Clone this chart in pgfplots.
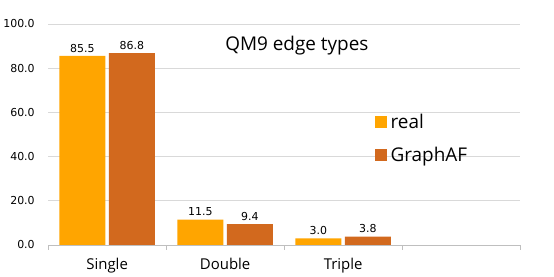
\documentclass[border=0pt]{standalone}
\usepackage{pgfplots}
\pgfplotsset{compat=1.18}
\usepackage{fontspec}
\setmainfont{Open Sans}
\newfontfamily\dv{DejaVu Sans}
\definecolor{realc}{HTML}{FFA500}
\definecolor{gafc}{HTML}{D2691E}
\definecolor{gridc}{HTML}{D9D9D9}
\definecolor{axc}{HTML}{BFBFBF}
\begin{document}
\begin{tikzpicture}
\begin{axis}[
  scale only axis, width=474pt, height=222pt,
  ybar, bar width=0.39,
  xmin=-0.5, xmax=3.5, ymin=0, ymax=100,
  axis x line*=bottom, axis y line*=left,
  y axis line style={draw=none},
  x axis line style={draw=axc, line width=0.8pt, -},
  ytick={0,20,...,100},
  ymajorgrids, grid style={gridc, line width=0.7pt},
  ytick style={draw=none},
  y tick label style={font=\dv\fontsize{11}{13}\selectfont, xshift=-5pt,
    /pgf/number format/.cd, fixed, fixed zerofill, precision=1, assume math mode=true},
  xtick={-0.5,0.5,1.5,2.5,3.5}, xticklabels={},
  xtick style={draw=axc, line width=0.8pt},
  tick align=outside, major tick length=5pt,
  extra x ticks={0,1,2},
  extra x tick labels={Single,Double,Triple},
  extra x tick style={major tick length=0pt, grid=none,
    tick label style={font=\fontsize{15}{18}\selectfont, yshift=-10pt}},
  legend style={at={(0.685,0.61)}, anchor=north west, draw=none, fill=none,
    font=\fontsize{19}{22}\selectfont, row sep=13pt},
  legend cell align=left,
  nodes near coords,
  nodes near coords style={font=\dv\fontsize{11}{13}\selectfont,
    /pgf/number format/.cd, fixed, fixed zerofill, precision=1, assume math mode=true},
]
\addplot[bar shift=-0.21, fill=realc, draw=none,
  legend image code/.code={\fill[realc] (0pt,-6pt) rectangle (12pt,6pt);}]
  coordinates {(0,85.5) (1,11.5) (2,3.0)};
\addlegendentry{\hspace{2pt}real}
\addplot[bar shift=0.21, fill=gafc, draw=none,
  legend image code/.code={\fill[gafc] (0pt,-6pt) rectangle (12pt,6pt);}]
  coordinates {(0,86.8) (1,9.4) (2,3.8)};
\addlegendentry{\hspace{2pt}GraphAF}
\node[font=\fontsize{19}{22}\selectfont] at (rel axis cs:0.527,0.9) {QM9 edge types};
\end{axis}
\path ([xshift=-46pt,yshift=-30pt]current axis.south west) rectangle ([xshift=34pt,yshift=24pt]current axis.north east);
\end{tikzpicture}
\end{document}
